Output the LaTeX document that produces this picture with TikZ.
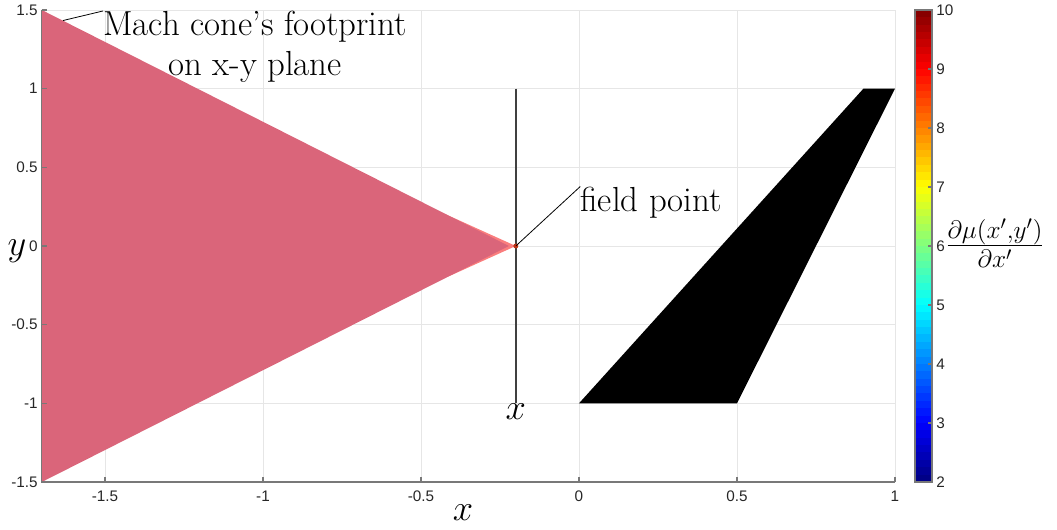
\documentclass[tikz,border=0pt]{standalone}
\usepackage{fontspec}
\newfontfamily\ticklabelfont{Liberation Sans}
\definecolor{conered}{RGB}{218,101,122}
\definecolor{conefringe}{RGB}{250,125,125}
\definecolor{ticklabelgray}{RGB}{38,38,38}
\definecolor{gridgray}{RGB}{230,230,230}
\definecolor{axisgray}{RGB}{120,120,120}
\definecolor{fieldred}{RGB}{190,50,20}
\begin{document}
\begin{tikzpicture}[
        x=6.32cm, y=3.1467cm,
        every node/.style={
            font=\fontsize{19.8}{22.7}\selectfont
        },
        ticklabel/.style={
            font=\ticklabelfont\fontsize{8.7}{10}\selectfont,
            text=ticklabelgray,
            inner sep=0pt
        },
        annot/.style={
            align=center,
            inner sep=0pt
        },
        leader/.style={
            draw=black,
            line width=0.45pt
        },
        gridline/.style={
            gridgray,
            line width=0.5pt
        },
        axisline/.style={
            axisgray,
            line width=0.6pt
        }
    ]
    \useasboundingbox (-1.83228,-1.79877) rectangle (1.51266,1.56358);
    % 网格
    \foreach \gx in {-1.5,-1,-0.5,0,0.5,1}
        \draw[gridline] (\gx,-1.5) -- (\gx,1.5);
    \foreach \gy in {-1,-0.5,0,0.5,1,1.5}
        \draw[gridline] (-1.7,\gy) -- (1,\gy);
    % 马赫锥在 x-y 平面上的投影
    \fill[conefringe] (-0.2,0) -- (-0.42,0.2) -- (-0.42,-0.2) -- cycle;
    \fill[conered] (-0.222,0) -- (-1.7,1.5) -- (-1.7,-1.5) -- cycle;
    % 机翼
    \fill[black] (0,-1) -- (0.5,-1) -- (1,1) -- (0.9,1) -- cycle;
    % 坐标轴与刻度
    \draw[axisline] (-1.7,1.5) -- (-1.7,-1.5) -- (1,-1.5);
    \foreach \gx/\lab [count=\k] in {-1.5/-1.5,-1/-1,-0.5/-0.5,0/0,0.5/0.5,1/1} {
        \draw[axisline] (\gx,-1.5) -- ++(0,0.032);
        \node[ticklabel, anchor=north] (xtick\k) at (\gx,-1.557) {\lab};
    }
    \foreach \gy/\lab [count=\k] in {-1.5/-1.5,-1/-1,-0.5/-0.5,0/0,0.5/0.5,1/1,1.5/1.5} {
        \draw[axisline] (-1.7,\gy) -- ++(0.0158,0);
        \node[ticklabel, anchor=east] (ytick\k) at (-1.712,\gy) {\lab};
    }
    \node (xlab) at (-0.367,-1.697) {$x$};
    \node (ylab) at (-1.7785,-0.03) {$y$};
    % 场点与 x 线
    \coordinate (fp) at (-0.2,0);
    \coordinate (stemtop) at (-0.2,1);
    \node[anchor=north, inner sep=0pt] (stemlab) at (-0.2,-1) {$x$};
    \draw[black!75, line width=1pt] (stemtop) -- (stemlab.north);
    \fill[fieldred] (fp) circle (0.05cm);
    % 标注
    \node[annot, anchor=north west] (fplabel) at (0.004,0.378) {field point};
    \draw[leader] (fp) -- (fplabel.north west);
    \coordinate (coneedge) at (-1.633,1.433);
    \node[annot, anchor=north west] (conelabel) at (-1.5063,1.4937)
        {Mach cone’s footprint\\on x-y plane};
    \draw[leader] (coneedge) -- (conelabel.north west);
    % 色标
    \foreach \i in {0,...,63} {
        \pgfmathsetmacro{\vv}{(\i+0.5)/64}
        \pgfmathsetmacro{\jr}{max(0,min(1,1.5-abs(4*\vv-3)))}
        \pgfmathsetmacro{\jg}{max(0,min(1,1.5-abs(4*\vv-2)))}
        \pgfmathsetmacro{\jb}{max(0,min(1,1.5-abs(4*\vv-1)))}
        \definecolor{jetc}{rgb}{\jr,\jg,\jb}
        \fill[jetc] (1.0633,{-1.5+\i*3/64}) rectangle (1.1171,{-1.5+(\i+1)*3/64+0.001});
    }
    \draw[axisline] (1.0633,-1.5) rectangle (1.1171,1.5);
    \foreach \cv in {2,...,10} {
        \draw[axisline] (1.1171,{-1.5+(\cv-2)*3/8}) -- ++(-0.0127,0);
        \node[ticklabel, anchor=west] (ctick\cv) at (1.1297,{-1.5+(\cv-2)*3/8}) {\cv};
    }
    \node[font=\fontsize{22.5}{26}\selectfont] (cbarlab) at (1.3165,0.02)
        {$\frac{\partial\mu(x',y')}{\partial x'}$};
\end{tikzpicture}
\end{document}
